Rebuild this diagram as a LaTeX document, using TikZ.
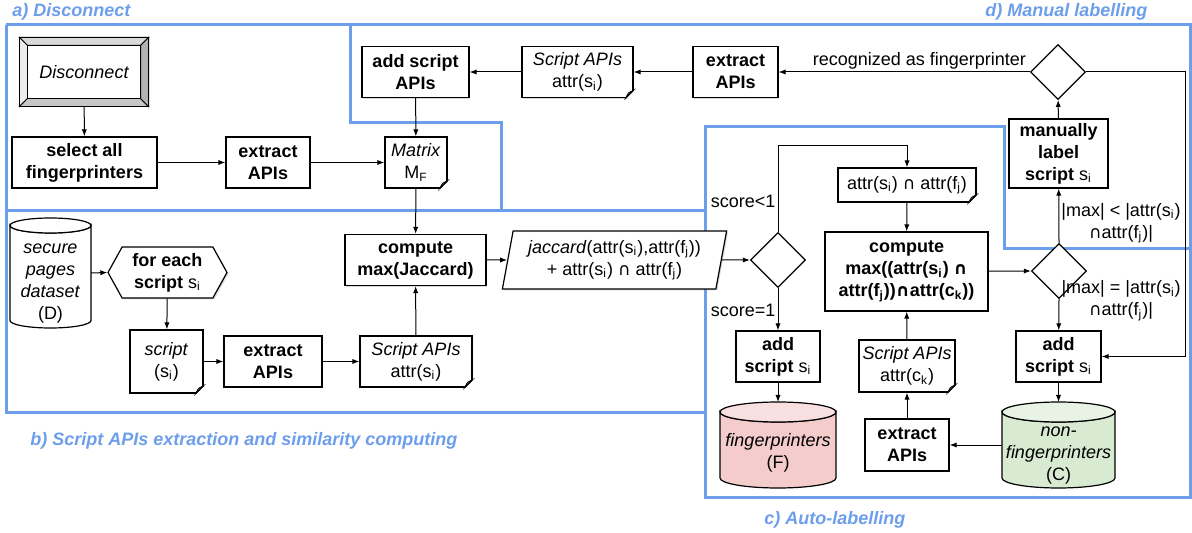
\documentclass[tikz,border=0pt]{standalone}
\usepackage{fontspec}
\setmainfont{Liberation Sans}
\newfontfamily\symfnt[Scale=0.95]{DejaVu Sans}
\usetikzlibrary{shapes.geometric,shapes.symbols,arrows.meta,shadows}
\definecolor{regblue}{RGB}{109,158,235}
\definecolor{fpred}{RGB}{244,204,204}
\definecolor{nfpgreen}{RGB}{217,234,211}
\newcommand{\fsz}{\fontsize{9}{11}\selectfont}
\newcommand{\sub}[1]{\textsubscript{#1}}
\newcommand{\isect}{{\symfnt\mdseries ∩}}
\newcommand{\isectb}{{\symfnt\bfseries ∩}}
% cylinder: centre x, top, bottom, x radius, y radius, fill
\newcommand{\dbcyl}[6]{%
  \filldraw[line width=0.6pt,fill=#6] (#1-#4,#2+#5) -- (#1-#4,#3-#5) arc[start angle=180,end angle=0,x radius=#4,y radius=#5] -- (#1+#4,#2+#5) arc[start angle=0,end angle=180,x radius=#4,y radius=#5] -- cycle;
  \filldraw[line width=0.6pt,fill=#6!60] (#1,#2+#5) ellipse[x radius=#4,y radius=#5];
}
\tikzset{
  box/.style={rectangle,draw,line width=0.6pt,fill=white,align=center,font=\fsz\bfseries,inner sep=1pt,
    drop shadow={shadow xshift=0.7pt,shadow yshift=-0.7pt,opacity=0.3}},
  doc/.style={box,font=\fsz},
  dec/.style={diamond,draw,line width=0.6pt,fill=white,minimum width=27.5pt,minimum height=27.5pt,inner sep=0pt},
  cond/.style={align=center,inner sep=1pt,font=\fsz},
  region/.style={draw=regblue,line width=1.5pt},
  regtitle/.style={text=regblue,font=\fsz\bfseries\itshape,inner sep=0pt,anchor=west},
  flow/.style={-{Latex[length=3.5pt,width=2.6pt]},line width=0.5pt}
}
\begin{document}
\begin{tikzpicture}[x=0.5pt,y=-0.5pt,font=\fsz]
\useasboundingbox (0,0) rectangle (1192,533);
% regions
\draw[region] (350,25) -- (1190,25) -- (1190,497) -- (705,497) -- (705,127) -- (1004,127) -- (1004,249) -- (1190,249);
\draw[region] (6,25) -- (350,25) -- (350,123) -- (501,123) -- (501,211);
\draw[region] (6,25) -- (6,413) -- (705,413);
\draw[region] (6,211) -- (705,211);
\node[regtitle] (ta) at (12,12) {a) Disconnect};
\node[regtitle] (tb) at (30,441) {b) Script APIs extraction and similarity computing};
\node[regtitle] (tc) at (764,520) {c) Auto-labelling};
\node[regtitle] (td) at (985,12) {d) Manual labelling};

% a) Disconnect
\node[box,font=\fsz\itshape,minimum width=64pt,minimum height=34pt] (disc) at (84,72) {Disconnect};
\draw[line width=0.4pt,fill=gray!30] (disc.north west) -- (disc.north east) -- ([shift={(-4pt,-4pt)}]disc.north east) -- ([shift={(4pt,-4pt)}]disc.north west) -- cycle;
\draw[line width=0.4pt,fill=gray!15] (disc.north west) -- ([shift={(4pt,-4pt)}]disc.north west) -- ([shift={(4pt,4pt)}]disc.south west) -- (disc.south west) -- cycle;
\draw[line width=0.4pt,fill=gray!45] (disc.south west) -- ([shift={(4pt,4pt)}]disc.south west) -- ([shift={(-4pt,4pt)}]disc.south east) -- (disc.south east) -- cycle;
\draw[line width=0.4pt,fill=gray!60] (disc.north east) -- ([shift={(-4pt,-4pt)}]disc.north east) -- ([shift={(-4pt,4pt)}]disc.south east) -- (disc.south east) -- cycle;
\draw[line width=0.6pt] (disc.north west) rectangle (disc.south east);
\node[box,minimum width=72.5pt,minimum height=25.5pt] (selall) at (84.5,162.5) {select all\\fingerprinters};
\node[box,minimum width=42pt,minimum height=25.5pt] (extA) at (268,162.5) {extract\\APIs};
\node[doc,minimum width=31pt,minimum height=25.5pt] (matrix) at (416,162.5) {\textit{Matrix}\\M\sub{F}};

% d) Manual labelling
\node[box,minimum width=53.5pt,minimum height=25.5pt] (addapi) at (415.5,72) {add script\\APIs};
\node[doc,minimum width=55.5pt,minimum height=25.5pt] (apisD) at (577.5,72) {\textit{Script APIs}\\attr(s\sub{i})};
\node[box,minimum width=42.5pt,minimum height=25.5pt] (extD) at (735.5,72) {extract\\APIs};
\node[dec] (decD) at (1058,72) {};
\node[box,minimum width=49.5pt,minimum height=34.5pt] (manual) at (1058.5,153.5) {manually\\label\\script \textmd{s\sub{i}}};
\coordinate (rt) at (1185,72);

% b) Script APIs extraction and similarity computing
\dbcyl{50.5}{218}{328}{40.5}{7.5}{white}
\coordinate (dbDe) at (91,273);
\node[cond] (dbD) at (50.5,284) {\textit{secure}\\\textit{pages}\\\textit{dataset}\\(D)};
\node[box,signal,signal to=east and west,signal pointer angle=122,minimum width=59.5pt,minimum height=25.5pt] (each) at (167.5,272.5) {for each\\script \textmd{s\sub{i}}};
\node[doc,minimum width=36.5pt,minimum height=31.5pt] (script) at (166.5,361.5) {\textit{script}\\(s\sub{i})};
\node[box,minimum width=49pt,minimum height=25.5pt] (extB) at (273,361.5) {extract\\APIs};
\node[doc,minimum width=56pt,minimum height=25.5pt] (apisB) at (416,361.5) {\textit{Script APIs}\\attr(s\sub{i})};
\node[box,minimum width=70.5pt,minimum height=25.5pt] (compB) at (415.5,260) {compute\\max(Jaccard)};
\node[doc,trapezium,trapezium left angle=78,trapezium right angle=102,trapezium stretches=true,minimum width=112.5pt,minimum height=29pt] (jac) at (614.5,260) {\textit{jaccard}(attr(s\sub{i}),attr(f\sub{j}))\\+ attr(s\sub{i}) \isect{} attr(f\sub{j})};

% c) Auto-labelling
\node[dec] (decC1) at (778,260) {};
\coordinate (sc) at (778,146);
\node[doc,minimum width=69pt,minimum height=17pt] (inter) at (907,185) {attr(s\sub{i}) \isect{} attr(f\sub{j})};
\node[box,minimum width=81.5pt,minimum height=39.5pt] (compC) at (906.5,271.5) {compute\\max((attr(s\sub{i}) \isectb\\attr(f\sub{j}))\isectb{}attr(c\sub{k}))};
\node[dec] (decC2) at (1059,271) {};
\node[box,minimum width=42pt,minimum height=25.5pt] (addC1) at (778,356.5) {add\\script \textmd{s\sub{i}}};
\node[doc,minimum width=48pt,minimum height=26pt] (apisC) at (907,366) {\textit{Script APIs}\\attr(c\sub{k})};
\node[box,minimum width=42.5pt,minimum height=25.5pt] (addC2) at (1058.5,356.5) {add\\script \textmd{s\sub{i}}};
\dbcyl{778}{402}{488}{58}{10}{fpred}
\coordinate (fpn) at (778,402);
\node[cond] (fp) at (778,452.5) {\textit{fingerprinters}\\(F)};
\node[box,minimum width=42pt,minimum height=26pt] (extC) at (907,445) {extract\\APIs};
\dbcyl{1058.5}{402}{488}{56.5}{10}{nfpgreen}
\coordinate (nonfpn) at (1058.5,402);
\coordinate (nonfpw) at (1002,445);
\node[cond] (nonfp) at (1058.5,455.5) {\textit{non-}\\\textit{fingerprinters}\\(C)};

% folded corners
\foreach \d in {matrix,apisD,script,apisB,inter,apisC}{
  \fill[white] ([xshift=-4pt]\d.south east) -- ([shift={(1pt,-1pt)}]\d.south east) -- ([yshift=4pt]\d.south east) -- cycle;
  \draw[line width=0.4pt,fill=gray!35] ([xshift=-4pt]\d.south east) -- ([yshift=4pt]\d.south east) -- ([shift={(-2.6pt,2.6pt)}]\d.south east) -- cycle;
  \draw[line width=0.6pt] ([xshift=-4pt]\d.south east) -- ([yshift=4pt]\d.south east);
}

% connectors
\draw[flow] (disc) -- (selall);
\draw[flow] (selall) -- (extA);
\draw[flow] (extA) -- (matrix);
\draw[flow] (addapi) -- (matrix);
\draw[flow] (apisD) -- (addapi);
\draw[flow] (extD) -- (apisD);
\draw[flow] (decD.west) -- node[cond,above,pos=0.44] {recognized as fingerprinter} (extD);
\draw[flow] (decD.east) -- (rt) |- (addC2.east);
\draw[flow] (manual) -- (decD);
\draw[flow] (decC2.north) -- node[cond,right,pos=0.36] {|max| < |attr(s\sub{i})\\\isect{}attr(f\sub{j})|} (manual);
\draw[flow] (decC2.south) -- node[cond,right,pos=0.05] {|max| = |attr(s\sub{i})\\\isect{}attr(f\sub{j})|} (addC2);
\draw[flow] (addC2) -- (nonfpn);
\draw[flow] (nonfpw) -- (extC.east);
\draw[flow] (extC) -- (apisC);
\draw[flow] (apisC) -- (compC);
\draw[flow] (compC) -- (decC2.west);
\draw[flow] (inter) -- (compC);
\draw[flow] (decC1.north) -- node[cond,left,pos=0.36] {score<1} (sc) -| (inter.north);
\draw[flow] (decC1.south) -- node[cond,left,pos=0.52] {score=1} (addC1);
\draw[flow] (addC1) -- (fpn);
\draw[flow] (jac.east) -- (decC1.west);
\draw[flow] (compB) -- (jac);
\draw[flow] (matrix) -- (compB);
\draw[flow] (apisB) -- (compB);
\draw[flow] (dbDe) -- (each.west);
\draw[flow] (each) -- (script);
\draw[flow] (script) -- (extB);
\draw[flow] (extB) -- (apisB);
\end{tikzpicture}
\end{document}
